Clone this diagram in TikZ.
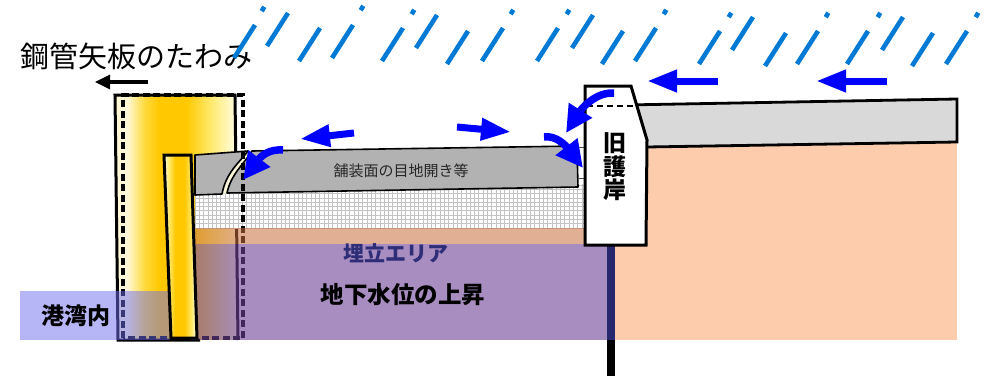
\documentclass[tikz,border=0pt]{standalone}
\usepackage{fontspec}
\newfontfamily\jp{Noto Sans CJK JP}
\usetikzlibrary{arrows.meta}

\definecolor{rainblue}{RGB}{0,122,212}
\definecolor{flowblue}{RGB}{0,0,255}
\definecolor{pavegray}{RGB}{178,178,178}
\definecolor{slabgray}{RGB}{217,217,217}
\definecolor{peach}{RGB}{252,204,172}
\definecolor{tanlayer}{RGB}{200,110,60}
\definecolor{purplelayer}{RGB}{110,65,150}
\definecolor{harborblue}{RGB}{110,110,240}
\definecolor{postnavy}{RGB}{40,40,110}
\definecolor{labelnavy}{RGB}{45,45,120}
\definecolor{gridgray}{RGB}{195,195,195}
\definecolor{cracklight}{RGB}{250,246,215}
\definecolor{pilelight}{RGB}{255,248,215}
\definecolor{pilemid}{RGB}{255,218,60}
\definecolor{pilegold}{RGB}{255,200,0}
\definecolor{pilepale}{RGB}{255,234,110}
\definecolor{pilewhite}{RGB}{255,254,235}

% horizontal yellow shadings for the steel pipe sheet piles
\pgfdeclarehorizontalshading{bigpile}{100bp}{color(0bp)=(pilelight); color(25bp)=(pilelight);
  color(30bp)=(pilelight); color(37bp)=(pilemid); color(43bp)=(pilegold); color(54bp)=(pilegold);
  color(64bp)=(pilepale); color(75bp)=(pilewhite); color(100bp)=(pilewhite)}
\pgfdeclarehorizontalshading{smallpile}{100bp}{color(0bp)=(pilewhite); color(25bp)=(pilewhite);
  color(32bp)=(pilepale); color(42bp)=(pilegold); color(56bp)=(pilegold);
  color(67bp)=(pilepale); color(75bp)=(pilewhite); color(100bp)=(pilewhite)}

\begin{document}
\begin{tikzpicture}[x=1pt,y=-1pt,
  rain/.style={draw=rainblue,line width=4.6pt},
  flow/.style={draw=flowblue,line width=7pt,-{Triangle[length=30pt,width=21pt]}},
  flowcurve/.style={draw=flowblue,line width=7.5pt,-{Triangle[length=27pt,width=26pt]}},
  outline/.style={draw=black,line width=3pt,line join=miter},
  shifted/.style={draw=black,line width=3.2pt,dash pattern=on 7pt off 3.5pt},
  gridline/.style={draw=gridgray,line width=0.8pt},
  jplabel/.style={inner sep=0pt,text=black}]

\useasboundingbox (0,0) rectangle (984,380);

% deflected steel pipe sheet pile
\shade[shading=bigpile] (115,95) -- (235,95) -- (238,340) -- (118,340) -- cycle;
\draw[outline] (200,340) -- (118,340) -- (115,95) -- (235,95) -- (238,340);

% fill layer with grid hatching
\begin{scope}
  \clip (195,184) rectangle (585,228);
  \fill[white] (195,184) rectangle (585,228);
  \foreach \gx in {195,199.3,...,586} \draw[gridline] (\gx,184) -- (\gx,228);
  \foreach \gy in {228,223.7,...,183} \draw[gridline] (195,\gy) -- (585,\gy);
\end{scope}

% pavement slabs with an open joint (crack)
\fill[cracklight] (248,151) .. controls (240,162) and (226,172) .. (222,194)
  -- (227,193) .. controls (231,174) and (244,164) .. (252,151) -- cycle;
\draw[fill=pavegray,draw=black,line width=1.6pt,line join=round]
  (195,155) -- (248,151) .. controls (240,162) and (226,172) .. (222,194) -- (195,195) -- cycle;
\draw[fill=pavegray,draw=black,line width=1.6pt,line join=round]
  (252,151) -- (577,146) -- (578,187) -- (227,193)
  .. controls (231,174) and (244,164) .. (252,151) -- cycle;
\draw[draw=black!70,line width=0.7pt] (578,147) -- (585,147) (578,178) -- (585,178);

% hinterland behind the old seawall
\fill[peach] (614,140) rectangle (957,340);
\draw[fill=slabgray,draw=black,line width=2.8pt,line join=miter]
  (625,105) -- (957,99) -- (957,142) -- (647,147) -- cycle;

% original position of the sheet pile
\draw[shifted] (123,338) -- (123,95) -- (243,95) -- (243,338) -- cycle;

% reclaimed area and harbour water
\fill[tanlayer,opacity=0.55] (190,228) rectangle (585,244);
\fill[purplelayer,opacity=0.6] (190,244) rectangle (607,340);
\fill[harborblue,opacity=0.5] (20,291) rectangle (170,340);

% inner sheet pile
\shade[shading=smallpile] (164,155) -- (191,155) -- (197,338) -- (171,338) -- cycle;
\draw[outline] (164,155) -- (191,155) -- (197,338) -- (171,338) -- cycle;

% old seawall and its foundation post
\fill[postnavy] (607,245) rectangle (614.5,340);
\fill[black] (607,340) rectangle (614.5,376);
\draw[outline,fill=white] (585,86) -- (631,86) -- (647,140) -- (646,245) -- (585,245) -- cycle;
\draw[black,line width=2pt,dash pattern=on 6pt off 4pt] (587,106) -- (637,106);

% labels
\node[jplabel,font=\jp\fontsize{29}{29}\selectfont] (title) at (136,56) {鋼管矢板のたわみ};
\draw[black,line width=3.2pt,-{Triangle[length=15pt,width=14pt]}] (148,82) -- (95,82);
\node[jplabel,text=black!85,font=\jp\fontsize{15}{15}\selectfont] (pavelabel) at (401,171) {舗装面の目地開き等};
\node[jplabel,text=labelnavy,font=\jp\bfseries\fontsize{21}{21}\selectfont] (filllabel) at (396,253) {埋立エリア};
\node[jplabel,font=\jp\bfseries\fontsize{23.5}{23.5}\selectfont] (gwlabel) at (403,295) {地下水位の上昇};
\node[jplabel,font=\jp\bfseries\fontsize{23}{23}\selectfont] (harborlabel) at (76,316) {港湾内};
\node[jplabel,align=center,font=\jp\bfseries\fontsize{23}{23.5}\selectfont] (walllabel) at (615,167) {旧\\護\\岸};

% water flow
\draw[flow] (718,81) -- (647,81);
\draw[flow] (887,81) -- (816,81);
\draw[flow] (457,127) -- (511,132);
\draw[flow] (354,133) -- (300,139);
\draw[flowcurve] (614,93) .. controls (596,92) and (582,108) .. (566,133);
\draw[flowcurve] (544,137) .. controls (556,135) and (566,146) .. (583,168);
\draw[flowcurve] (283,150) .. controls (270,149) and (262,155) .. (243,180);

% rain
\foreach \px/\py in {255/25,288/13,320/28,353/25,403/28,437/15,468/31,503/28,558/28,593/15,
                     623/31,656/28,720/31,753/17,786/33,818/31,868/31,903/17,933/33,967/31}
  \draw[rain] (\px,\py) -- ++(-21,33);
\foreach \px/\py in {263/9,362/8,413/12,512/12,568/12,665/12,730/15,827/15,879/15,977/15}
  \draw[rain] (\px+1.3,\py-2.2) -- (\px-1.3,\py+2.2);

\end{tikzpicture}
\end{document}
